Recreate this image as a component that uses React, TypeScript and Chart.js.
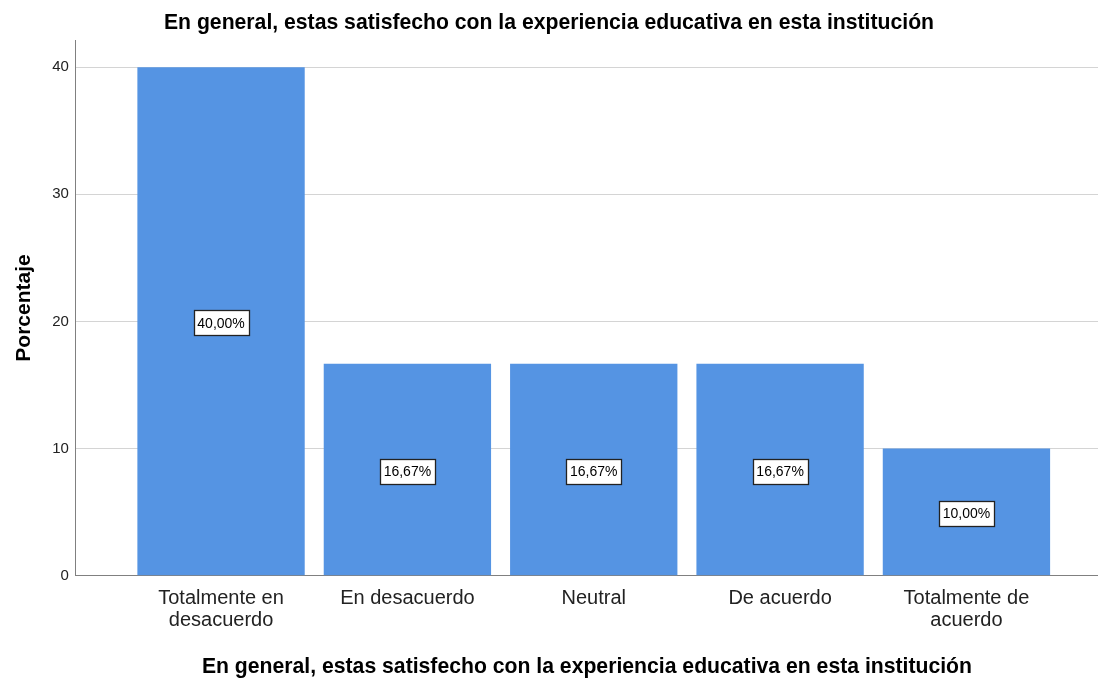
import React, { useEffect, useRef } from "react";
import { Chart, registerables } from "chart.js";

Chart.register(...registerables);

const categories: string[][] = [
  ["Totalmente en", "desacuerdo"],
  ["En desacuerdo"],
  ["Neutral"],
  ["De acuerdo"],
  ["Totalmente de", "acuerdo"],
];
const values: number[] = [40.0, 16.67, 16.67, 16.67, 10.0];
const valueLabels: string[] = ["40,00%", "16,67%", "16,67%", "16,67%", "10,00%"];
const yTicks: number[] = [0, 10, 20, 30, 40];
const titleText = "En general, estas satisfecho con la experiencia educativa en esta institución";
const yTitle = "Porcentaje";

const FONT = "'Liberation Sans', Arial, sans-serif";

const labelPlugin = {
  id: "boxLabels",
  afterDatasetsDraw(chart: any) {
    const ctx = chart.ctx;
    const meta = chart.getDatasetMeta(0);
    ctx.save();
    ctx.font = `14px ${FONT}`;
    ctx.textAlign = "center";
    ctx.textBaseline = "middle";
    meta.data.forEach((el: any, i: number) => {
      const txt = valueLabels[i];
      const cx = el.x;
      const cy = (el.y + el.base) / 2 + 1.5;
      const w = Math.round(ctx.measureText(txt).width + 8);
      const h = 25;
      const x0 = Math.round(cx - w / 2) + 0.5;
      const y0 = Math.round(cy - h / 2) + 0.5;
      ctx.fillStyle = "#ffffff";
      ctx.fillRect(x0, y0, w, h);
      ctx.strokeStyle = "#222222";
      ctx.lineWidth = 1.3;
      ctx.strokeRect(x0, y0, w, h);
      ctx.fillStyle = "#000000";
      ctx.fillText(txt, cx, cy + 1);
    });
    ctx.restore();
  },
};

export default function App() {
  const ref = useRef<HTMLCanvasElement | null>(null);
  useEffect(() => {
    document.body.style.margin = "0";
    const canvas = ref.current!;
    const chart = new Chart(canvas, {
      type: "bar",
      data: {
        datasets: [
          {
            data: values.map((v, i) => ({ x: i, y: v })),
            backgroundColor: "#5594e3",
            borderWidth: 0,
            barPercentage: 0.898,
            categoryPercentage: 1,
          },
        ],
      },
      options: {
        animation: false,
        responsive: false,
        maintainAspectRatio: false,
        layout: { padding: { left: 0, right: 0, top: 0, bottom: 0 } },
        plugins: {
          legend: { display: false },
          tooltip: { enabled: false },
          title: {
            display: true,
            text: titleText,
            color: "#000",
            font: { family: FONT, size: 21.2, weight: "bold", lineHeight: 1.2 },
            padding: { top: 10.4, bottom: 4.4 },
          },
        },
        scales: {
          x: {
            type: "linear",
            min: -0.779,
            max: 4.706,
            offset: false,
            afterBuildTicks: (axis: any) => {
              axis.ticks = categories.map((_, i) => ({ value: i }));
            },
            grid: { display: false, drawTicks: false },
            border: { display: true, color: "#808080", width: 1 },
            ticks: {
              autoSkip: false,
              maxRotation: 0,
              padding: 12,
              color: "#222",
              font: { family: FONT, size: 20, lineHeight: 1.1 },
              callback: (v: any) => categories[Math.round(Number(v))] ?? "",
            },
            title: {
              display: true,
              text: titleText,
              color: "#000",
              font: { family: FONT, size: 21.2, weight: "bold", lineHeight: 1.2 },
              padding: { top: 10.3, bottom: -1.5 },
            },
          },
          y: {
            min: 0,
            max: 42.12,
            afterBuildTicks: (axis: any) => {
              axis.ticks = yTicks.map((v) => ({ value: v }));
            },
            grid: { color: "#d4d4d4", drawTicks: false, lineWidth: 1 },
            border: { display: true, color: "#808080", width: 1 },
            ticks: {
              padding: 7,
              color: "#222",
              font: { family: FONT, size: 15 },
            },
            title: {
              display: true,
              text: yTitle,
              color: "#000",
              font: { family: FONT, size: 21, weight: "bold", lineHeight: 1.2 },
              padding: { top: 12, bottom: 8 },
            },
          },
        },
      },
      plugins: [labelPlugin],
    });
    return () => chart.destroy();
  }, []);
  return (
    <div style={{ width: 1098, height: 678, background: "#fff" }}>
      <canvas ref={ref} width={1098} height={678} style={{ display: "block" }} />
    </div>
  );
}
